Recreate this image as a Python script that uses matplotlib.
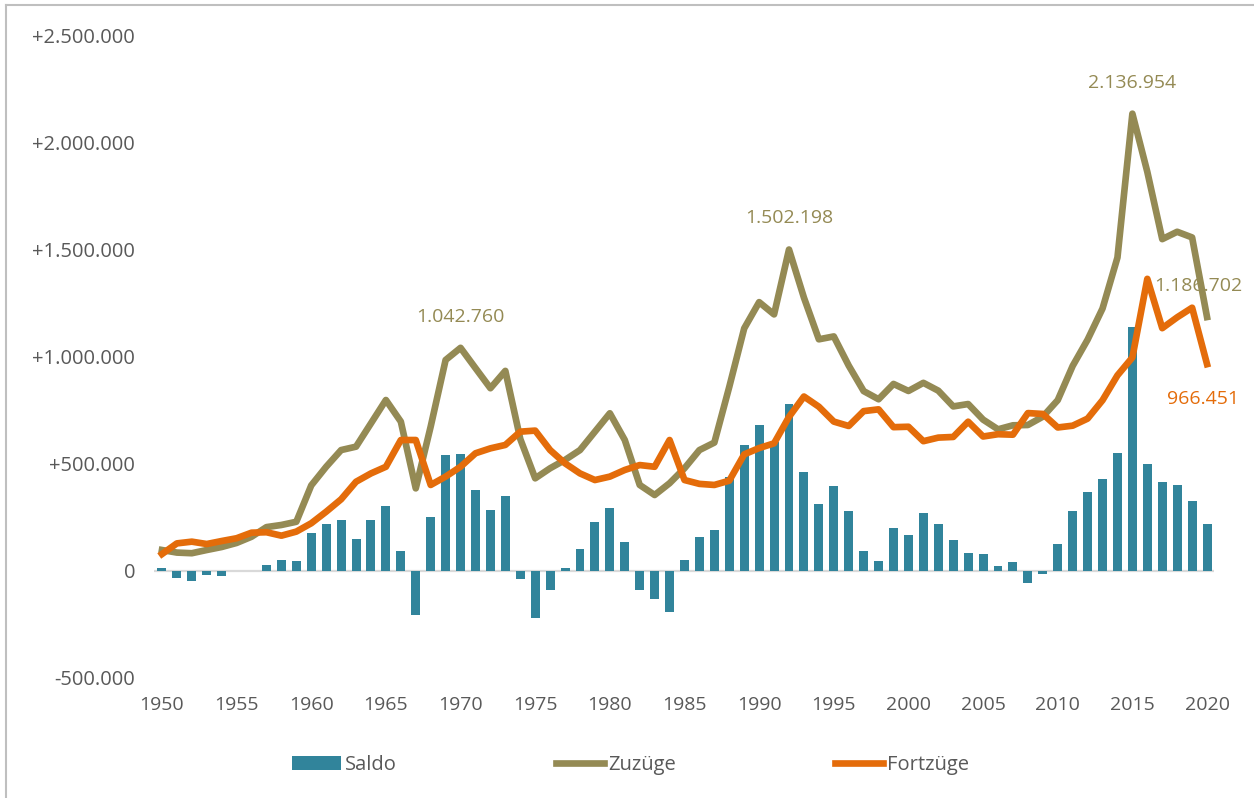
import numpy as np
import matplotlib
matplotlib.use("Agg")
import matplotlib.pyplot as plt
from matplotlib.lines import Line2D
from matplotlib.ticker import FuncFormatter

plt.rcParams["font.family"] = ["Open Sans", "DejaVu Sans"]

years = list(range(1950, 2021))

zuzuege = [
    98000, 86000, 83000, 98000, 112000, 131000, 160000, 205000, 215000, 230000,
    400000, 487000, 565000, 581000, 690000, 799000, 698000, 386000, 675000, 986000,
    1042760, 948000, 854000, 935000, 617000, 433000, 480000, 519000, 565000, 651000,
    737000, 612000, 402000, 355000, 410000, 480000, 565000, 600000, 860578, 1133794,
    1256250, 1198978, 1502198, 1277408, 1082553, 1096048, 959691, 840633, 802456, 874023,
    841158, 879217, 842543, 768975, 780175, 707352, 661855, 680766, 682146, 721014,
    798282, 958299, 1080936, 1226493, 1464724, 2136954, 1865122, 1550721, 1585112, 1558612,
    1186702,
]

fortzuege = [
    79000, 129000, 137000, 126000, 140000, 153000, 179000, 181000, 165000, 184000,
    223000, 277000, 335000, 417000, 456000, 487000, 612000, 612000, 402000, 441000,
    487000, 550000, 573000, 589000, 651000, 656000, 565000, 503000, 456000, 425000,
    441000, 472000, 495000, 487000, 612000, 425000, 407000, 402000, 421947, 544967,
    574378, 596455, 720127, 815312, 767555, 698113, 677494, 746969, 755358, 672048,
    674038, 606494, 623255, 626330, 697632, 628399, 639064, 636854, 737889, 733796,
    670605, 678969, 711991, 797886, 914241, 997552, 1365178, 1134641, 1185432, 1230252,
    966451,
]

saldo = [
    15000, -34000, -45000, -19000, -23000, 0, 0, 28000, 51000, 47000,
    176000, 218000, 237000, 148000, 238000, 302000, 95000, -206000, 251000, 542000,
    547000, 380000, 285000, 350000, -36000, -221000, -89000, 15000, 101000, 230000,
    296000, 134000, -89000, -132000, -190000, 51000, 157000, 192000, 438631, 588827,
    681872, 602523, 782071, 462096, 314998, 397935, 282197, 93664, 47098, 201975,
    167120, 272723, 219288, 142645, 82543, 78953, 22791, 43912, -55743, -12782,
    127677, 279330, 368945, 428607, 550483, 1139402, 499944, 416080, 399680, 327060,
    220251,
]

c_bar = "#31849B"
c_zu = "#948A54"
c_fort = "#E46C0A"
c_text = "#595959"

fig = plt.figure(figsize=(12.54, 7.98), dpi=100)
ax = fig.add_axes([0.1232, 0.1504, 0.8453, 0.8045])

b = ax.bar(years, saldo, width=0.6, color=c_bar, label="Saldo", zorder=2)
l1, = ax.plot(years, zuzuege, color=c_zu, lw=4.8, label="Zuzüge", zorder=3)
l2, = ax.plot(years, fortzuege, color=c_fort, lw=4.8, label="Fortzüge", zorder=4)
ax.axhline(0, color="#D9D9D9", lw=1.6, zorder=1)

ax.set_xlim(1949.5, 2020.5)
ax.set_ylim(-500000, 2500000)
ax.set_xticks(range(1950, 2021, 5))
ax.set_yticks(range(-500000, 2500001, 500000))


def fmt(v, pos):
    s = f"{abs(int(v)):,}".replace(",", ".")
    if v > 0:
        return "+" + s
    if v < 0:
        return "-" + s
    return "0"


ax.yaxis.set_major_formatter(FuncFormatter(fmt))
ax.tick_params(axis="both", length=0, labelsize=14, labelcolor=c_text)
ax.tick_params(axis="y", pad=14, labelsize=14.5)
ax.tick_params(axis="x", pad=13)
for s in ax.spines.values():
    s.set_visible(False)

# value labels
ax.annotate("1.042.760", (1970, 1042760), xytext=(0, 22), textcoords="offset points",
            ha="center", va="center", color=c_zu, fontsize=14)
ax.annotate("1.502.198", (1992, 1502198), xytext=(0, 23), textcoords="offset points",
            ha="center", va="center", color=c_zu, fontsize=14)
ax.annotate("2.136.954", (2015, 2136954), xytext=(0, 22), textcoords="offset points",
            ha="center", va="center", color=c_zu, fontsize=14)
ax.annotate("1.186.702", (2020, 1186702), xytext=(-6, 22), textcoords="offset points",
            ha="center", va="center", color=c_zu, fontsize=14, zorder=2)
ax.annotate("966.451", (2020, 966451), xytext=(-3, -25), textcoords="offset points",
            ha="center", va="center", color=c_fort, fontsize=14)

fig.legend([b, l1, l2], ["Saldo", "Zuzüge", "Fortzüge"],
           loc="center", bbox_to_anchor=(0.503, 0.041), ncol=3, frameon=False,
           fontsize=14.5, labelcolor=c_text, handlelength=2.4, handleheight=0.72,
           handletextpad=0.2, columnspacing=7.9)

# light frame around the chart
fig.add_artist(Line2D([0.0045, 0.0045], [0.0, 0.994], color="#BFBFBF", lw=1.5,
                      transform=fig.transFigure))
fig.add_artist(Line2D([0.0045, 1.0], [0.994, 0.994], color="#BFBFBF", lw=1.5,
                      transform=fig.transFigure))

fig.savefig("out.png", dpi=100)
